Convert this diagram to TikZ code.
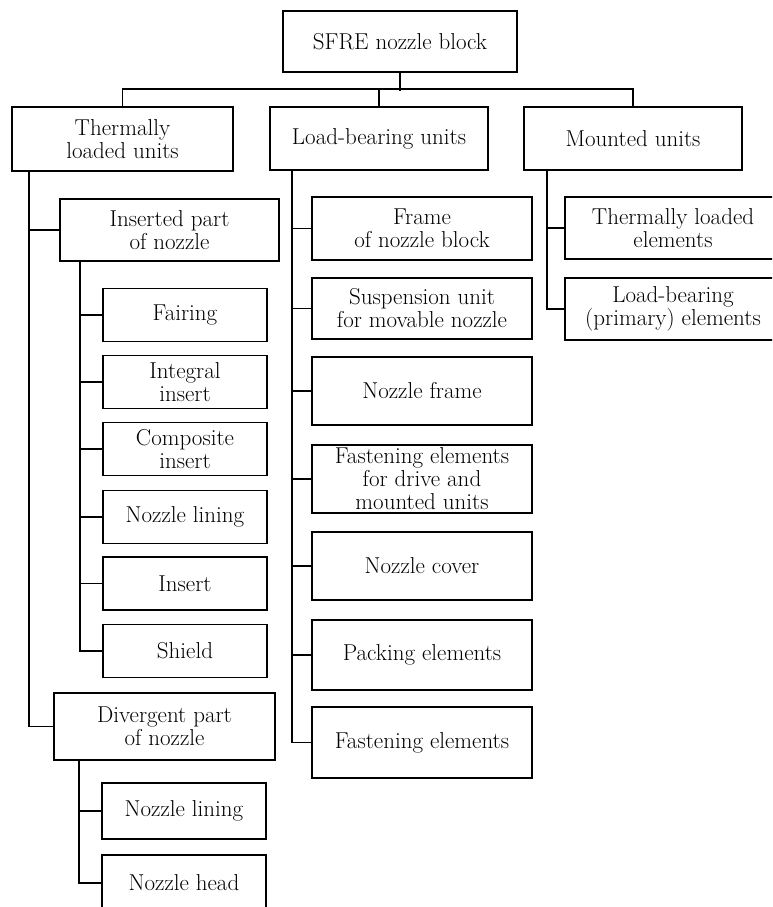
\documentclass[tikz,border=0pt]{standalone}
\usepackage{fontspec}
\begin{document}
\begin{tikzpicture}[x=1pt,y=-1pt,
  box/.style={draw, line width=1.8pt, rectangle, align=center, inner sep=0pt,
    font=\fontsize{23}{23}\selectfont},
  link/.style={line width=1.8pt},
  subbox/.style={box, minimum width=164, minimum height=53},
  midbox/.style={box, minimum width=220}]
\clip (0,0) rectangle (772,907);
\useasboundingbox (0,0) rectangle (772,907);
% top
\node[box, minimum width=234, minimum height=61] (s) at (400,41.5) {SFRE nozzle block};
\node[box, minimum width=221, minimum height=64] (t) at (122.5,139) {Thermally\\loaded units};
\node[box, minimum width=218, minimum height=63] (l) at (379,138.5) {Load-bearing units};
\node[box, minimum width=218, minimum height=63] (m) at (633,138.5) {Mounted units};
% thermally loaded branch
\node[box, minimum width=219, minimum height=62] (ins) at (169.5,230) {Inserted part\\of nozzle};
\node[subbox] (fa) at (185,315) {Fairing};
\node[subbox] (ii) at (185,382) {Integral\\insert};
\node[subbox] (ci) at (185,449) {Composite\\insert};
\node[subbox] (nl) at (185,517) {Nozzle lining};
\node[subbox] (in) at (185,583.5) {Insert};
\node[subbox] (sh) at (185,651) {Shield};
\node[box, minimum width=221, minimum height=67] (div) at (164.5,726.5) {Divergent part\\of nozzle};
\node[subbox, minimum height=56] (dl) at (184,811) {Nozzle lining};
\node[subbox, minimum height=56] (nh) at (184,883) {Nozzle head};
% load-bearing branch
\node[midbox, minimum height=63] (fr) at (422,228.5) {Frame\\of nozzle block};
\node[midbox, minimum height=61] (su) at (422,308.5) {Suspension unit\\for movable nozzle};
\node[midbox, minimum height=68] (nf) at (422,391) {Nozzle frame};
\node[midbox, minimum height=68] (fd) at (422,479) {Fastening elements\\for drive and\\mounted units};
\node[midbox, minimum height=68] (nc) at (422,566) {Nozzle cover};
\node[midbox, minimum height=70] (pe) at (422,655) {Packing elements};
\node[midbox, minimum height=71] (fe) at (422,742.5) {Fastening elements};
% mounted branch
\node[box, minimum width=216, minimum height=62] (te) at (673,228) {Thermally loaded\\elements};
\node[box, minimum width=216, minimum height=62] (lb) at (673,309) {Load-bearing\\(primary) elements};
% connectors
\draw[link] (s.south) -- ++(0,18);
\draw[link] (t.north) -- ++(0,-17) -| (m.north);
\draw[link] (l.north) -- ++(0,-17);
\foreach \n in {ins,div} \draw[link] (t.south west) ++(18,0) |- (\n.west);
\foreach \n in {fa,ii,ci,nl,in,sh} \draw[link] (ins.south west) ++(21,0) |- (\n.west);
\foreach \n in {dl,nh} \draw[link] (div.south west) ++(26,0) |- (\n.west);
\foreach \n in {fr,su,nf,fd,nc,pe,fe} \draw[link] (l.south west) ++(23,0) |- (\n.west);
\foreach \n in {te,lb} \draw[link] (m.south west) ++(24,0) |- (\n.west);
\end{tikzpicture}
\end{document}
